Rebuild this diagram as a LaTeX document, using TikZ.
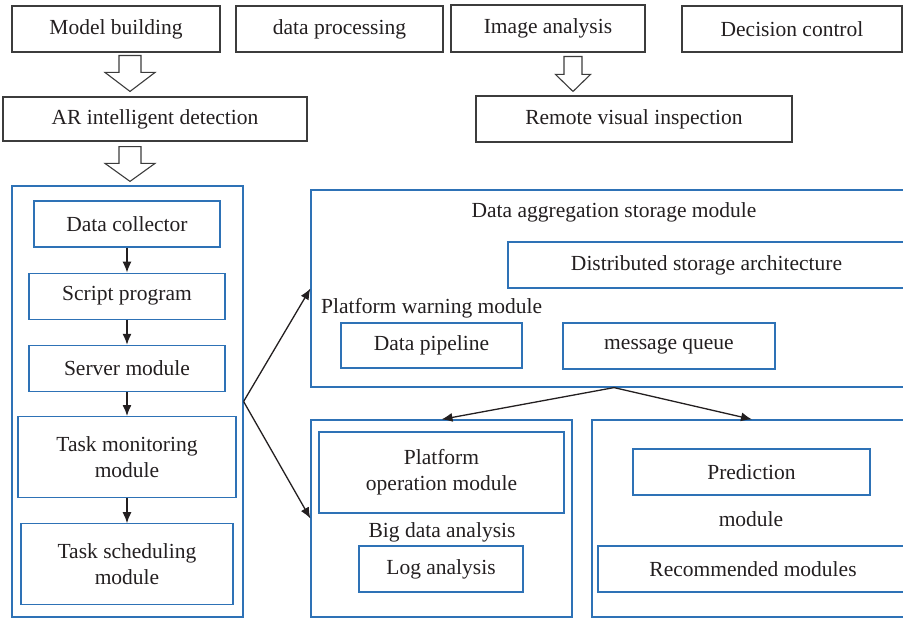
\documentclass[tikz,border=0pt]{standalone}
\usepackage{fontspec}
\setmainfont{Liberation Serif}
\usetikzlibrary{arrows.meta, positioning, calc}

\definecolor{boxblue}{RGB}{46,114,182}
\definecolor{boxgray}{RGB}{60,60,60}
\definecolor{textgray}{RGB}{35,31,32}

% #1 start, #2 tip, #3 shaft half width, #4 head half width, #5 head length
\newcommand{\hollowarrow}[5]{%
  \draw[hollow] let \p1=(#1), \p2=(#2) in
    (\x1-#3pt,\y1) -- (\x1+#3pt,\y1) -- (\x1+#3pt,\y2+#5pt) -- (\x1+#4pt,\y2+#5pt)
    -- (\x1,\y2) -- (\x1-#4pt,\y2+#5pt) -- (\x1-#3pt,\y2+#5pt) -- cycle;}

\begin{document}
\begin{tikzpicture}[
            x=1pt, y=-1pt,
            node distance=25pt and 20pt,
            every node/.style={font=\fontsize{21.5}{26}\selectfont, text=textgray},
            graybox/.style={draw=boxgray, line width=1.1pt, minimum height=46pt, inner sep=0pt, align=center},
            bluebox/.style={draw=boxblue, line width=1.2pt, minimum height=46pt, inner sep=0pt, align=center},
            frame/.style={draw=boxblue, line width=1.2pt, inner sep=0pt},
            caption/.style={inner sep=0pt},
            arrow/.style={-{Latex[length=11pt,width=9pt]}, line width=1.3pt, draw=textgray},
            hollow/.style={draw=boxgray, line width=1.1pt, fill=white}
        ]
    \useasboundingbox (0,0) rectangle (903,618);
    \clip (0,0) rectangle (903,618);

    % top row
    \node[graybox, minimum width=208pt] (model) at (116,29) {Model building};
    \node[graybox, minimum width=207pt] (dataproc) at (339.5,29) {data processing};
    \node[graybox, minimum width=194pt, minimum height=47pt] (image) at (548,28.5) {Image analysis};
    \node[graybox, minimum width=220pt] (decision) at (792,29) {Decision control};
    \node[graybox, minimum width=304pt, minimum height=44pt] (ar) at (155,119) {AR intelligent detection};
    \node[graybox, minimum width=316pt] (remote) at (634,119) {Remote visual inspection};

    % left column
    \node[frame, minimum width=231pt, minimum height=431pt] (collect) at (127.5,401.5) {};
    \node[bluebox, minimum width=186pt] (collector) at (127,224) {Data collector};
    \node[bluebox, minimum width=196pt, below=of collector] (script) {Script program};
    \node[bluebox, minimum width=196pt, below=of script] (server) {Server module};
    \node[bluebox, minimum width=218pt, minimum height=81pt, below=24pt of server] (monitor) {Task monitoring\\module};
    \node[bluebox, minimum width=212pt, minimum height=81pt, below=of monitor] (schedule) {Task scheduling\\module};

    % storage and warning
    \node[frame, minimum width=606pt, minimum height=197pt] (storage) at (614,288.5) {};
    \node[caption, anchor=base] (aggr) at (614,217) {Data aggregation storage module};
    \node[bluebox, minimum width=397pt] (distrib) at (706.5,265) {Distributed storage architecture};
    \node[caption, anchor=base west] (warning) at (321,313) {Platform warning module};
    \node[bluebox, minimum width=181pt, minimum height=45pt] (pipeline) at (431.5,345.5) {Data pipeline};
    \node[bluebox, minimum width=212pt] (queue) at (669,346) {message queue};

    % big data analysis
    \node[frame, minimum width=261pt, minimum height=197pt] (bigdata) at (441.5,518.5) {};
    \node[bluebox, minimum width=245pt, minimum height=81pt] (operation) at (441.5,472.5) {Platform\\operation module};
    \node[caption, anchor=base] (bigtext) at (442,537) {Big data analysis};
    \node[bluebox, minimum width=164pt] (log) at (441,569) {Log analysis};

    % prediction
    \node[frame, minimum width=320pt, minimum height=197pt] (predict) at (752,518.5) {};
    \node[bluebox, minimum width=237pt] (prediction) at (751.5,472) {Prediction};
    \node[caption, anchor=base] (modtext) at (751,526) {module};
    \node[bluebox, minimum width=310pt] (recommend) at (753,569) {Recommended modules};

    % hollow arrows
    \coordinate (h1s) at ($(model.south -| 130,0)+(0,3)$);
    \coordinate (h1e) at ($(ar.north -| 130,0)+(0,-5)$);
    \coordinate (h2s) at ($(ar.south -| 130,0)+(0,5)$);
    \coordinate (h2e) at ($(collect.north -| 130,0)+(0,-4)$);
    \coordinate (h3s) at ($(image.south -| 573,0)+(0,4)$);
    \coordinate (h3e) at ($(remote.north -| 573,0)+(0,-4)$);
    \hollowarrow{h1s}{h1e}{11}{25}{19}
    \hollowarrow{h2s}{h2e}{11}{25}{18}
    \hollowarrow{h3s}{h3e}{9}{17.5}{17}

    \draw[arrow] (collector) -- (script);
    \draw[arrow] (script) -- (server);
    \draw[arrow] (server) -- (monitor);
    \draw[arrow] (monitor) -- (schedule);

    \draw[arrow] (collect.east) -- (storage.west);
    \draw[arrow] (collect.east) -- (bigdata.west);
    \draw[arrow] (storage.south) -- (bigdata.north);
    \draw[arrow] (storage.south) -- (predict.north);

\end{tikzpicture}
\end{document}
